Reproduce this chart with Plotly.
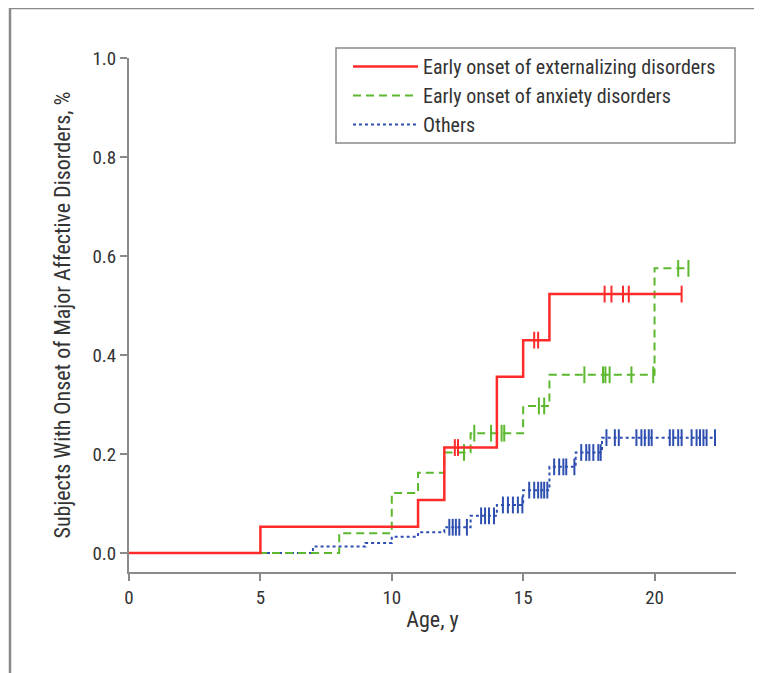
import numpy as np
import plotly.graph_objects as go

# ---- data ----
ext_t = [0, 5, 11, 12, 14, 15, 16, 21.03]
ext_v = [0, 0.053, 0.107, 0.213, 0.356, 0.43, 0.523, 0.523]
ext_c = [12.4, 12.52, 15.42, 15.57, 18.1, 18.36, 18.8, 19.02, 21.03]

anx_t = [0, 8, 10, 11, 12, 13, 15, 16, 20, 21.3]
anx_v = [0, 0.04, 0.121, 0.162, 0.203, 0.242, 0.297, 0.36, 0.575, 0.575]
anx_c = [12.75, 13.14, 13.78, 14.18, 14.28, 15.6, 15.8, 17.33, 18.04, 18.13,
         18.29, 19.12, 19.95, 20.9, 21.29]

oth_t = [0, 7, 9, 10, 11, 12, 13, 14, 15, 16, 17, 18, 22.3]
oth_v = [0, 0.013, 0.02, 0.033, 0.042, 0.052, 0.075, 0.097, 0.127, 0.174,
         0.203, 0.233, 0.233]
oth_c = [12.19, 12.32, 12.44, 12.57, 12.86,
         13.4, 13.55, 13.7, 13.89,
         14.23, 14.42, 14.61, 14.8, 14.97,
         15.23, 15.42, 15.57, 15.69, 15.8, 15.92,
         16.18, 16.37, 16.53, 16.64, 16.95,
         17.21, 17.4, 17.52, 17.67, 17.86, 17.95,
         18.17, 18.49, 18.64, 19.31, 19.5, 19.63, 19.78, 19.89,
         20.58, 20.71, 20.9, 21.03, 21.41, 21.6, 21.73, 21.86, 21.98, 22.3]

names = ["Early onset of externalizing disorders",
         "Early onset of anxiety disorders",
         "Others"]
x_ticks = [0, 5, 10, 15, 20]
y_ticks = [0.0, 0.2, 0.4, 0.6, 0.8, 1.0]
y_tick_text = ["0.0", "0.2", "0.4", "0.6", "0.8", "1.0"]

FONT = "Liberation Sans Narrow, Arial Narrow, Roboto Condensed, Liberation Sans, sans-serif"


def step_at(ts, vs, xs):
    idx = np.searchsorted(np.array(ts), np.array(xs), side="right") - 1
    return [vs[i] for i in idx]


series = [
    (ext_t, ext_v, ext_c, "#ff2a2a", "solid", 2.5),
    (anx_t, anx_v, anx_c, "#5cb82e", "8px,5px", 2),
    (oth_t, oth_v, oth_c, "#2f4fb0", "dot", 2),
]

fig = go.Figure()
for i in [2, 1, 0]:
    t, v, c, col, dash, w = series[i]
    fig.add_trace(go.Scatter(
        x=t, y=v, mode="lines", line=dict(shape="hv", color=col, dash=dash, width=w),
        name=names[i], legendrank=i + 1, showlegend=True, hoverinfo="skip"))
    fig.add_trace(go.Scatter(
        x=c, y=step_at(t, v, c), mode="markers", showlegend=False,
        marker=dict(symbol="line-ns", size=12, color=col,
                    line=dict(color=col, width=2))))

# page has an 8px body margin; lay out in page pixels
OFF = 8
W, H = 762 - OFF, 673 - OFF
PL, PR, PT, PB = 129, 736, 58, 572   # plot area in page pixels
L, R, T, B = PL - OFF, (W + OFF) - PR, PT - OFF, (H + OFF) - PB
pw, ph = PR - PL, PB - PT


def px_x(px):
    return (px - PL) / pw


def px_y(py):
    return (PB - py) / ph


fig.update_layout(
    width=W, height=H,
    margin=dict(l=L, r=R, t=T, b=B),
    paper_bgcolor="white", plot_bgcolor="white",
    font=dict(family=FONT, size=19, color="#333333"),
    showlegend=True,
    legend=dict(x=px_x(348), y=px_y(47), xanchor="left", yanchor="top",
                borderwidth=0, bgcolor="rgba(0,0,0,0)",
                font=dict(family=FONT, size=20, color="#333333"),
                itemwidth=65, tracegroupgap=0,
                traceorder="normal"),
    xaxis=dict(range=[0, 23.1], tickvals=x_ticks, ticks="outside", ticklen=7,
               tickcolor="#8a8a8a", tickwidth=1.5, showline=True, linecolor="#8a8a8a",
               linewidth=2, showgrid=False, zeroline=False,
               tickfont=dict(size=19, color="#333333"),
               title=dict(text="Age, y", font=dict(size=22, color="#333333"), standoff=4)),
    yaxis=dict(range=[-0.0384, 1.0], tickvals=y_ticks, ticktext=y_tick_text,
               ticks="outside", ticklen=7, tickcolor="#8a8a8a", tickwidth=1.5,
               showline=True, linecolor="#8a8a8a", linewidth=2, showgrid=False,
               zeroline=False, tickfont=dict(size=19, color="#333333"),
               title=dict(text="Subjects With Onset of Major Affective Disorders, %",
                          font=dict(size=22, color="#333333"), standoff=16)),
    shapes=[
        dict(type="line", xref="paper", yref="paper", x0=px_x(10), x1=px_x(10),
             y0=px_y(8), y1=px_y(680), line=dict(color="#8a8a8a", width=2.5)),
        dict(type="line", xref="paper", yref="paper", x0=px_x(10), x1=px_x(770),
             y0=px_y(8), y1=px_y(8), line=dict(color="#8a8a8a", width=2.5)),
        dict(type="rect", xref="paper", yref="paper", x0=px_x(336), x1=px_x(735),
             y0=px_y(143), y1=px_y(48), line=dict(color="#8a8a8a", width=1.5),
             fillcolor="white", layer="below"),
    ],
)

fig.write_html("out.html")
